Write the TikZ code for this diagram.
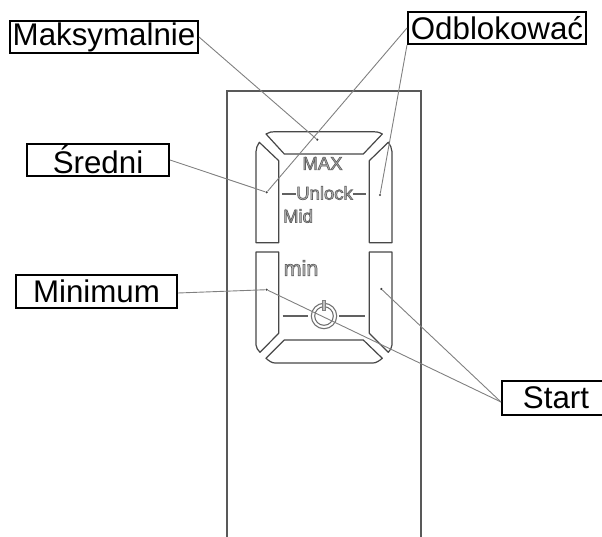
\documentclass[tikz,border=0pt]{standalone}
\usepackage{fontspec}
\setmainfont{Liberation Sans}
\newcommand{\outl}[1]{\special{pdf:code q 2 Tr 0.7 w 0.38 0.38 0.38 RG 0.72 0.72 0.72 rg}#1\special{pdf:code Q}}
\tikzset{
  lblbox/.style={draw=black,line width=2pt,fill=white,inner sep=0pt,font=\fontsize{31.3}{33}\selectfont,text=black,anchor=center},
  lead/.style={draw=black!50,line width=0.9pt},
  panel/.style={draw=black!65,line width=1.3pt},
  seg/.style={draw=black!72,line width=1.2pt,line join=round},
  dash line/.style={draw=black!62,line width=1.4pt},
  pointdot/.style={circle,fill=black!75,inner sep=0pt,minimum size=2.4pt},
  paneltext/.style={inner sep=0pt,anchor=center,font=\fontsize{18.5}{20}\selectfont}
}
\begin{document}
\begin{tikzpicture}[x=1pt,y=-1pt]
\useasboundingbox (0,0) rectangle (602,537);
% panel
\draw[panel] (227,537) -- (227,91) -- (421,91) -- (421,537);
% top segment
\draw[seg] (266,134) .. controls (269,132) and (272,131.7) .. (275,131.7) -- (373,131.7) .. controls (376,131.7) and (379,132) .. (382.3,134) -- (363.3,154) -- (284.3,154) -- cycle;
% upper left and right
\draw[seg] (259.3,142.3) -- (278.7,160.7) -- (278.7,242.7) -- (256,242.7) -- (256,151.7) .. controls (256,148) and (257.5,145) .. (259.3,142.3) -- cycle;
\draw[seg] (388.3,142.3) -- (369.3,160.7) -- (369.3,242.7) -- (392,242.7) -- (392,151.7) .. controls (392,148) and (390,145) .. (388.3,142.3) -- cycle;
% lower left and right
\draw[seg] (256,252) -- (278.7,252) -- (278.7,333.3) -- (260,352.3) .. controls (258,350) and (256,348) .. (256,345) -- cycle;
\draw[seg] (392,252) -- (369.3,252) -- (369.3,333.3) -- (388.3,352.3) .. controls (390,350) and (392,348) .. (392,345) -- cycle;
% bottom segment
\draw[seg] (266,358.3) -- (284.3,340) -- (363.3,340) -- (382.3,358.3) .. controls (379,361) and (376,363) .. (373,363) -- (275,363) .. controls (272,363) and (269,361) .. (266,358.3) -- cycle;
% panel labels
\node[paneltext] (tmax) at (322.5,163.5) {\outl{MAX}};
\node[paneltext] (tunlock) at (324.5,193) {\outl{Unlock}};
\node[paneltext] (tmid) at (298,216) {\outl{Mid}};
\node[paneltext,font=\fontsize{21.5}{23}\selectfont] (tmin) at (301,268) {\outl{min}};
\draw[dash line] (282,194) -- (296,194);
\draw[dash line] (353,194) -- (366,194);
\draw[dash line] (282.7,316) -- (308.3,316);
\draw[dash line] (339.3,316) -- (365,316);
% power symbol
\draw[draw=black!55,line width=1.1pt] (324,316) circle (12.7);
\draw[draw=black!60,line width=1pt] (324,316) circle (9.3);
\draw[draw=black!50,fill=black!25,line width=0.6pt] (322.4,300.5) rectangle (325.6,310.5);
% dots
\node[pointdot] (dmax) at (317.3,139.7) {};
\node[pointdot] (dmid) at (266.7,192.3) {};
\node[pointdot] (dunlock) at (380,195) {};
\node[pointdot] (dmin) at (266.7,289.7) {};
\node[pointdot] (dstart) at (381.3,289) {};
% labels
\node[lblbox,minimum width=188pt,minimum height=32pt] (lmax) at (104,37) {Maksymalnie};
\node[lblbox,minimum width=142pt,minimum height=32pt] (lmid) at (98,160) {Średni};
\node[lblbox,minimum width=178pt,minimum height=32pt] (lodb) at (497,28) {Odblokować};
\node[lblbox,minimum width=161pt,minimum height=33pt] (lmin) at (96.5,291.5) {Minimum};
\node[lblbox,minimum width=108pt,minimum height=34pt] (lstart) at (556,398) {Start};
% connectors
\draw[lead] (lmax.east) -- (dmax);
\draw[lead] (lmid.east) -- (dmid);
\draw[lead] (lodb.west) -- (dmid);
\draw[lead] (lodb.south west) -- (dunlock);
\draw[lead] ([yshift=-1.5pt]lmin.east) -- (dmin);
\draw[lead] (dmin) -- ([yshift=-4pt]lstart.west);
\draw[lead] (dstart) -- ([yshift=-4pt]lstart.west);
\end{tikzpicture}
\end{document}
